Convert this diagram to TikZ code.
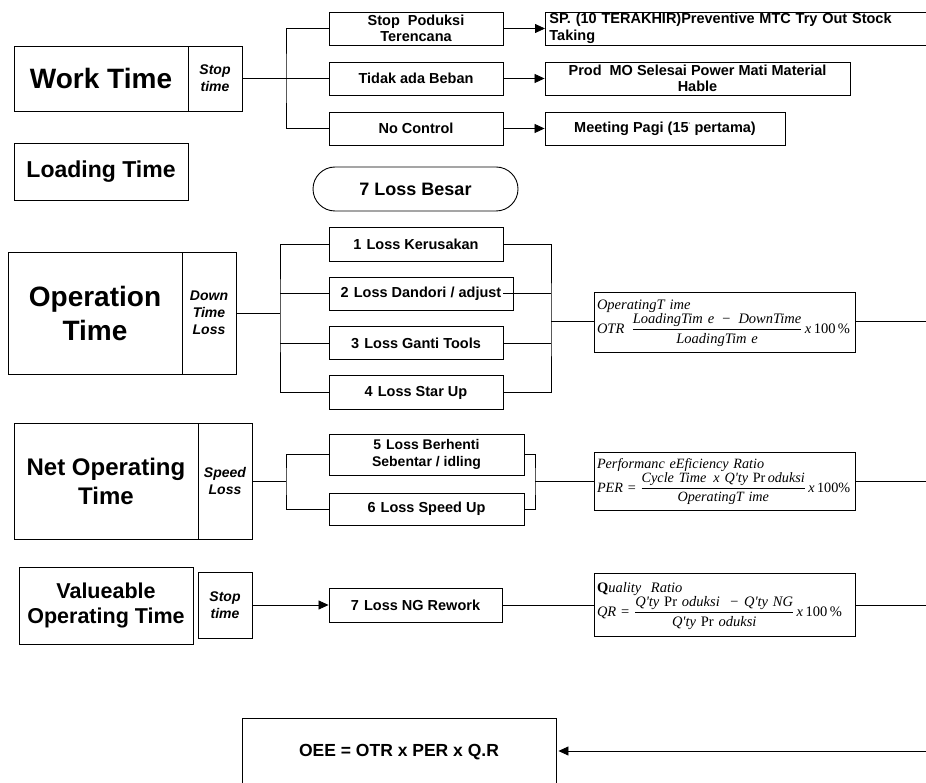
\documentclass[tikz,border=0pt]{standalone}
\usepackage{amsmath}
\usepackage{fontspec}
\setmainfont{Liberation Sans}
\newfontfamily\tms{Liberation Serif}
\usetikzlibrary{arrows.meta}

% two-row content of a ratio box: caption row, then the formula row
\newcommand{\ratiobox}[2]{\begin{tabular}{@{}l@{}}#1\\[-1pt]#2\end{tabular}}

\begin{document}
\begin{tikzpicture}[x=1pt,y=-1pt,
  line width=0.8pt,
  box/.style={draw, line width=0.9pt, inner sep=1pt, align=center},
  title/.style={box, font=\bfseries\fontsize{28}{34}\selectfont},
  side/.style={box, minimum width=54pt, font=\bfseries\itshape\fontsize{14}{17}\selectfont},
  item/.style={box, minimum width=174pt, minimum height=33pt, font=\bfseries\fontsize{14.5}{16.5}\selectfont},
  formula/.style={box, minimum width=261pt, text width=255pt, align=left, inner sep=3pt, font=\tms\fontsize{14.5}{16.5}\selectfont},
  arr/.style={-{Triangle[length=10pt,width=9pt]}},
]
\useasboundingbox[fill=white] (0,0) rectangle (926,783);

% ---------- Work time ----------
\node[title, minimum width=174pt, minimum height=65pt] (work) at (101,78.5) {Work Time};
\node[side, minimum height=65pt] (workstop) at (215,78.5) {Stop\\time};
\node[item] (stopprod) at (416,28.5) {Stop\ \ Poduksi\\Terencana};
\node[item] (tidak) at (416,78.5) {Tidak ada Beban};
\node[item] (nocontrol) at (416,128.5) {No Control};
\node[item, anchor=west, minimum width=400pt, text width=392pt, align=left] (sp) at (545,28.5)
  {SP. (10 TERAKHIR)Preventive MTC Try Out Stock\\Taking};
\node[item, minimum width=305pt] (prodmo) at (697.5,78.5) {Prod\ \ MO Selesai Power Mati Material\\Hable};
\node[item, minimum width=240pt] (meeting) at (665,128.5) {Meeting Pagi (15\textsuperscript{\tiny'} pertama)};

\coordinate (wj) at (286,78.5);
\draw (workstop.east) -- (tidak.west);
\draw (stopprod.west) -| (wj) |- (nocontrol.west);
\draw[arr] (stopprod.east) -- (sp.west);
\draw[arr] (tidak.east) -- (prodmo.west);
\draw[arr] (nocontrol.east) -- (meeting.west);

% ---------- Loading time ----------
\node[title, minimum width=174pt, minimum height=57pt, font=\bfseries\fontsize{23}{28}\selectfont] (loading) at (101,171.5) {Loading Time};
\node[box, rounded corners=22pt, minimum width=205pt, minimum height=44pt, font=\bfseries\fontsize{18}{22}\selectfont] (besar) at (415.5,189) {7 Loss Besar};

% ---------- Operation time ----------
\node[title, minimum width=174pt, minimum height=122pt] (oper) at (95,313) {Operation\\Time};
\node[side, minimum height=122pt] (downl) at (209,313) {Down\\Time\\Loss};
\node[item, minimum height=34pt] (l1) at (416,244.5) {1\hspace{0.35em}Loss Kerusakan};
\node[item, minimum width=184pt] (l2) at (421,293.5) {2\hspace{0.35em}Loss Dandori / adjust};
\node[item] (l3) at (416,343) {3\hspace{0.35em}Loss Ganti Tools};
\node[item, minimum height=34pt] (l4) at (416,392.5) {4\hspace{0.35em}Loss Star Up};

\node[formula, minimum height=60pt] (otr) at (724.5,322)
  {\ratiobox{\textit{OperatingT ime}}
   {\textit{OTR}\enspace$\dfrac{\mbox{\tms\itshape LoadingTim e\enskip−\enskip DownTime}}{\mbox{\tms\itshape LoadingTim e}}$\,\textit{x}\,100\,\%}};

% ---------- Net operating time ----------
\node[title, minimum width=184pt, minimum height=116pt, font=\bfseries\fontsize{24}{29}\selectfont] (netop) at (106,481) {Net Operating\\Time};
\node[side, minimum height=116pt] (speedl) at (225,481) {Speed\\Loss};
\node[item, minimum width=195pt, minimum height=41pt, font=\bfseries\fontsize{14}{17}\selectfont] (l5) at (426.5,454.5) {5\hspace{0.35em}Loss Berhenti\\Sebentar / idling};
\node[item, minimum width=195pt, minimum height=32pt] (l6) at (426.5,509) {6\hspace{0.35em}Loss Speed Up};

\node[formula, minimum height=58pt, font=\tms\fontsize{14.2}{16.5}\selectfont] (per) at (724.5,481)
  {\ratiobox{\textit{Performanc eEficiency Ratio}}
   {\textit{PER} = $\dfrac{\mbox{\tms\itshape Cycle Time\, x Q'ty {\upshape Pr}\,oduksi}}{\mbox{\tms\itshape OperatingT ime}}$\,\textit{x}\,100\%}};

% ---------- Valueable operating time ----------
\node[title, minimum width=174pt, minimum height=77pt, font=\bfseries\fontsize{21.5}{25}\selectfont] (valop) at (106,605.5) {Valueable\\Operating Time};
\node[side, minimum height=66pt] (stop3) at (225,605) {Stop\\time};
\node[item, minimum width=173pt, minimum height=34pt] (l7) at (415.5,605) {7\hspace{0.35em}Loss NG Rework};

\node[formula, minimum height=63pt] (qr) at (724.5,605)
  {\ratiobox{{\bfseries Q}\textit{uality\ \ Ratio}}
   {\textit{QR} = $\dfrac{\mbox{\tms\itshape Q'ty {\upshape Pr} oduksi\ \ − Q'ty\ NG}}{\mbox{\tms\itshape Q'ty {\upshape Pr} oduksi}}$\,\textit{x}\,100\,\%}};

% ---------- OEE ----------
\node[box, minimum width=314pt, minimum height=68pt, font=\bfseries\fontsize{17.5}{21}\selectfont] (oee) at (399,752) {OEE = OTR x PER x Q.R};

% ---------- connectors ----------
\coordinate (oj) at (280,313);
\draw (downl.east) -- (oj);
\draw (l1.west) -| (oj) |- (l4.west);
\draw (l2.west) -- (oj |- l2.west);
\draw (l3.west) -- (oj |- l3.west);
\coordinate (oc) at (551,321);
\draw (l1.east) -| (oc) |- (l4.east);
\draw ([xshift=-10pt]l2.east) -- (oc |- l2.east);
\draw (l3.east) -- (oc |- l3.east);
\draw (oc) -- (oc -| otr.west);

\coordinate (nj) at (286,481);
\draw (speedl.east) -- (nj);
\draw (l5.west) -| (nj) |- (l6.west);
\coordinate (nc) at (535,481);
\draw (l5.east) -| (nc) |- (l6.east);
\draw (nc) -- (per.west);

\draw[arr] (stop3.east) -- (l7.west);
\draw (l7.east) -- (qr.west);

\coordinate (e1) at (935,321);
\coordinate (e2) at (935,481);
\coordinate (e3) at (935,605);
\coordinate (e4) at (935,751);
\draw (otr.east |- e1) -- (e1);
\draw (per.east) -- (e2);
\draw (qr.east) -- (e3);
\draw[arr] (e4) -- ([xshift=2pt]oee.east |- e4);
\end{tikzpicture}
\end{document}
